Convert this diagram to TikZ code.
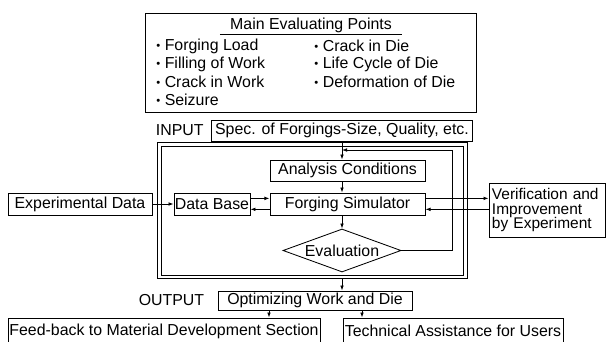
\documentclass[tikz,border=0pt]{standalone}
\usepackage{fontspec}
\setmainfont{Liberation Sans}
\usetikzlibrary{positioning,shapes.geometric,arrows.meta,calc}

\begin{document}
\begin{tikzpicture}[x=0.025cm,y=-0.025cm,
  line width=0.6pt,
  >={Latex[length=3.6pt,width=2.6pt]},
  every node/.style={font=\fontsize{11.3}{12}\selectfont},
  box/.style={draw,inner sep=0pt,minimum height=0.525cm},
  tag/.style={inner sep=0pt},
  item/.style={inner sep=0pt,anchor=west}
  ]
  \useasboundingbox (0,0) rectangle (606,342);

  % the evaluating points
  \node[draw,minimum width=8.275cm,minimum height=2.475cm] (points) at (310.5,62.5) {};
  \node[inner xsep=0.25cm,inner ysep=1pt] (title) at (311,25) {Main Evaluating Points};
  \draw (title.south west) -- (title.south east);
  \foreach \t [count=\i] in {Forging Load,Filling of Work,Crack in Work,Seizure}
    \node[item] (pa\i) at (156,{28+18*\i}) {{\footnotesize\raisebox{0.5pt}{•}} \t};
  \foreach \t [count=\i] in {Crack in Die,Life Cycle of Die,Deformation of Die}
    \node[item] (pb\i) at (314,{28+18*\i}) {{\footnotesize\raisebox{0.5pt}{•}} \t};

  % input
  \node[box,minimum width=6.525cm] (spec) at (342,130.5) {Spec. of Forgings-Size, Quality, etc.};
  \node[tag,left=0.175cm of spec] (input) {INPUT};

  % the simulation system
  \node[draw,minimum width=7.75cm,minimum height=3.4cm] (frame) at (312,210) {};
  \node[draw,minimum width=7.55cm,minimum height=3.225cm] (inframe) at (312,210.5) {};
  \node[box,minimum width=3.875cm] (analysis) at (347.5,170.5) {Analysis Conditions};
  \node[box,minimum width=3.875cm,minimum height=0.55cm] (sim) at (347.5,204) {Forging Simulator};
  \node[box,minimum width=1.9cm,minimum height=0.55cm] (db) at (212,204) {Data Base};
  \node[box,minimum width=3.6cm,minimum height=0.55cm] (expdata) at (80,204) {Experimental Data};
  \node[draw,diamond,aspect=2.75,inner sep=0pt,minimum width=2.95cm,minimum height=1.075cm] (eval) at (342,250.5) {Evaluation};
  \node[draw,align=left,text width=2.75cm,inner xsep=0.075cm,inner ysep=0pt,minimum height=1.35cm,
    font=\fontsize{11}{10.5}\selectfont] (verif) at (547,210) {Verification and\\Improvement\\by Experiment};
  \coordinate (fbk) at (452,150);

  % output
  \node[box,minimum width=4.85cm,minimum height=0.475cm] (opt) at (315,300.5) {Optimizing Work and Die};
  \node[tag,left=0.325cm of opt] (output) {OUTPUT};
  \node[box,minimum width=7.8cm,minimum height=0.65cm] (feed) at (164,331) {Feed-back to Material Development Section};
  \node[box,minimum width=5.5cm,minimum height=0.65cm] (tech) at (453,331) {Technical Assistance for Users};

  % the arrows
  \draw[->] (spec.south) -- (spec.south |- analysis.north);
  \draw[->] (analysis.south -| eval) -- (sim.north -| eval);
  \draw[->] (sim.south -| eval) -- (eval.north);
  \draw[->] (eval.east) -| (fbk) -- (fbk -| spec.south);
  \draw[->] (expdata) -- (db);
  \draw[->] ([yshift=4pt]db.east) -- ([yshift=4pt]sim.west);
  \draw[->] ([yshift=-3.8pt]sim.west) -- ([yshift=-3.8pt]db.east);
  \draw[->] ([yshift=4pt]sim.east) -- ([yshift=4pt]sim.east -| verif.west);
  \draw[->] ([yshift=-3.8pt]sim.east -| verif.west) -- ([yshift=-3.8pt]sim.east);
  \draw[->] (frame.south -| eval) -- (opt.north -| eval);
  \draw[->] ([xshift=-1.15cm]opt.south) -- ([xshift=-1.15cm]opt.south |- feed.north);
  \draw[->] ([xshift=1.175cm]opt.south) -- ([xshift=1.175cm]opt.south |- tech.north);
\end{tikzpicture}
\end{document}
